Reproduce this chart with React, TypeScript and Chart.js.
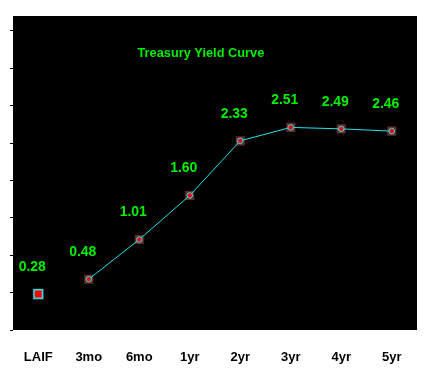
import React, { useEffect, useRef } from "react";
import { Chart, registerables } from "chart.js";

Chart.register(...registerables);

const categories = ["LAIF", "3mo", "6mo", "1yr", "2yr", "3yr", "4yr", "5yr"];
const yields = [0.28, 0.48, 1.01, 1.6, 2.33, 2.51, 2.49, 2.46];
const valueLabels = ["0.28", "0.48", "1.01", "1.60", "2.33", "2.51", "2.49", "2.46"];
const yTicks = [-0.2, 0.3, 0.8, 1.3, 1.8, 2.3, 2.8, 3.3, 3.8];
const titleText = "Treasury Yield Curve";

const FONT = "'Liberation Sans', Arial, sans-serif";
const GREEN = "#00f000";
const CYAN = "#22e4ec";
const RED = "#ff0000";
const BROWN = "#5e2e2e";

export default function App() {
  const ref = useRef<HTMLCanvasElement | null>(null);

  useEffect(() => {
    const canvas = ref.current;
    if (!canvas) return;

    const lineData = yields.map((v, i) => (i === 0 ? null : v));
    const laifData = yields.map((v, i) => (i === 0 ? v : null));

    const bgPlugin = {
      id: "bgPlugin",
      beforeDraw(chart: any) {
        const { ctx, chartArea } = chart;
        ctx.save();
        ctx.fillStyle = "#ffffff";
        ctx.fillRect(0, 0, chart.width, chart.height);
        ctx.fillStyle = "#000000";
        ctx.fillRect(chartArea.left, chartArea.top, chartArea.right - chartArea.left, chartArea.bottom - chartArea.top);
        ctx.restore();
      },
      afterDatasetsDraw(chart: any) {
        const { ctx, chartArea } = chart;
        ctx.save();
        ctx.fillStyle = GREEN;
        ctx.font = `bold 12.8px ${FONT}`;
        ctx.textAlign = "center";
        ctx.textBaseline = "middle";
        ctx.fillText(titleText, chartArea.left + (chartArea.right - chartArea.left) * 0.465, chartArea.top + 37.5);

        const meta = chart.getDatasetMeta(3);
        ctx.font = `bold 14px ${FONT}`;
        meta.data.forEach((pt: any, i: number) => {
          ctx.fillText(valueLabels[i], pt.x - 6, pt.y - 27);
        });
        ctx.restore();
      },
    };

    const chart = new Chart(canvas, {
      type: "line",
      data: {
        labels: categories,
        datasets: [
          {
            data: lineData,
            borderColor: CYAN,
            borderWidth: 1,
            pointStyle: "circle",
            pointRadius: 2.8,
            pointBackgroundColor: RED,
            pointBorderColor: CYAN,
            pointBorderWidth: 1,
            tension: 0,
            order: 1,
          },
          {
            data: laifData,
            showLine: false,
            pointStyle: "rect",
            pointRadius: 6,
            pointBackgroundColor: RED,
            pointBorderColor: CYAN,
            pointBorderWidth: 1.5,
            order: 1,
          },
          {
            data: yields,
            showLine: false,
            pointStyle: "rect",
            pointRadius: (c: any) => (c.dataIndex === 0 ? 7.8 : 6.4),
            pointBackgroundColor: BROWN,
            pointBorderWidth: 0,
            pointBorderColor: BROWN,
            order: 3,
          },
          {
            data: yields,
            showLine: false,
            pointRadius: 0,
            order: 4,
          },
        ],
      },
      options: {
        responsive: false,
        animation: false,
        layout: { padding: { left: 0, top: 16, right: 11, bottom: 0 } },
        plugins: {
          legend: { display: false },
          tooltip: { enabled: false },
          title: { display: false },
        },
        scales: {
          x: {
            type: "category",
            offset: true,
            grid: { display: false, drawTicks: false },
            border: { display: false },
            ticks: {
              color: "#000000",
              font: { family: FONT, size: 13, weight: "bold" },
              padding: 20,
              maxRotation: 0,
              autoSkip: false,
            },
            afterFit(scale: any) {
              scale.height = 59;
            },
          },
          y: {
            min: -0.2,
            max: 4.0,
            grid: {
              display: true,
              drawOnChartArea: false,
              drawTicks: true,
              tickLength: 3,
              color: "#000000",
              lineWidth: 1,
            },
            border: { display: false },
            ticks: { display: false },
            afterBuildTicks(scale: any) {
              scale.ticks = yTicks.map((v) => ({ value: v }));
            },
            afterFit(scale: any) {
              scale.width = 13;
            },
          },
        },
      },
      plugins: [bgPlugin],
    } as any);

    return () => chart.destroy();
  }, []);

  return (
    <div style={{ position: "fixed", left: 0, top: 0, width: 428, height: 389, background: "#ffffff" }}>
      <canvas ref={ref} width={428} height={389} style={{ display: "block" }} />
    </div>
  );
}
